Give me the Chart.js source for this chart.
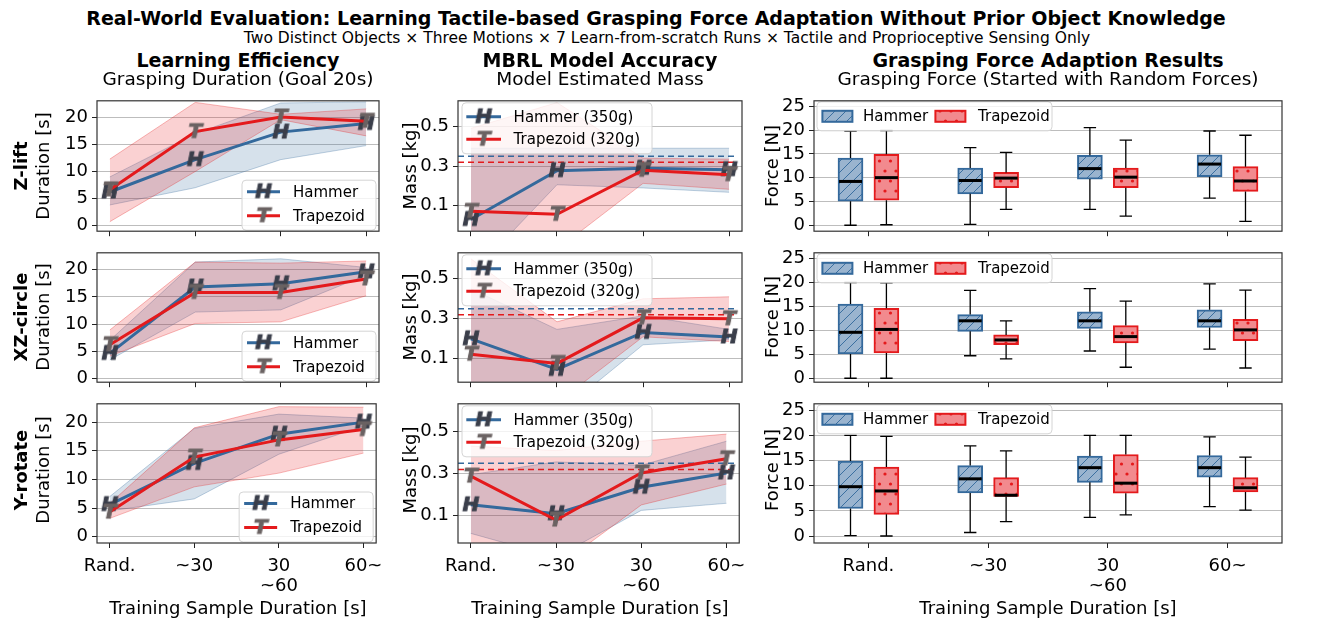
<!DOCTYPE html>
<html>
<head>
<meta charset="utf-8">
<script src="https://cdn.jsdelivr.net/npm/chart.js@4.4.0/dist/chart.umd.min.js"></script>
<style>
  body { margin: 0; background: #fff; }
  #wrap { position: relative; width: 1330px; height: 620px; font-family: "DejaVu Sans", sans-serif; color: #000; overflow: hidden; }
  .t { position: absolute; white-space: nowrap; transform: translate(-50%, -50%); }
  .v { position: absolute; white-space: nowrap; transform: translate(-50%, -50%) rotate(-90deg); }
  canvas { position: absolute; }
</style>
</head>
<body>
<div id="wrap"></div>
<script>
const X_LABELS = ["Rand.", "~30", ["30", "~60"], "60~"];
const MOTIONS = ["Z-lift", "XZ-circle", "Y-rotate"];
const OBJECTS = ["Hammer", "Trapezoid"];
const MASS_LABELS = ["Hammer (350g)", "Trapezoid (320g)"];
const MASS_TRUE = [0.35, 0.32];

// grasping duration [s] per motion: mean and band
const durHammerMean = [[6.2, 12.2, 17.3, 18.9], [4.6, 16.8, 17.4, 19.6], [5.6, 12.8, 17.9, 20.0]];
const durHammerHigh = [[9.0, 17.0, 22.7, 22.9], [7.0, 21.4, 22.0, 20.4], [7.0, 18.9, 21.4, 20.7]];
const durHammerLow = [[3.8, 7.0, 12.2, 14.8], [3.4, 12.2, 12.6, 19.0], [4.5, 6.6, 14.4, 19.3]];
const durTrapMean = [[6.6, 17.4, 20.1, 19.3], [6.2, 15.8, 15.8, 18.3], [4.3, 13.9, 16.9, 18.7]];
const durTrapHigh = [[12.3, 22.8, 20.6, 21.6], [8.9, 21.4, 21.2, 21.6], [5.8, 19.0, 22.7, 22.6]];
const durTrapLow = [[0.7, 10.0, 19.6, 16.6], [4.1, 10.1, 10.4, 15.2], [3.2, 8.7, 11.1, 14.6]];

// model estimated mass [kg]
const massHammerMean = [[0.031, 0.277, 0.289, 0.282], [0.200, 0.047, 0.232, 0.209], [0.151, 0.108, 0.235, 0.303]];
const massHammerHigh = [[0.39, 0.39, 0.39, 0.39], [0.45, 0.247, 0.315, 0.247], [0.295, 0.356, 0.34, 0.455]];
const massHammerLow = [[-0.25, 0.206, 0.19, 0.168], [-0.10, -0.18, 0.17, 0.195], [0.014, -0.10, 0.124, 0.158]];
const massTrapMean = [[0.072, 0.057, 0.279, 0.257], [0.123, 0.077, 0.305, 0.300], [0.288, 0.078, 0.303, 0.371]];
const massTrapHigh = [[0.49, 0.62, 0.34, 0.335], [0.60, 0.285, 0.40, 0.41], [0.432, 0.41, 0.455, 0.489]];
const massTrapLow = [[-0.35, -0.12, 0.213, 0.183], [-0.35, -0.12, 0.21, 0.186], [-0.2, -0.15, 0.15, 0.25]];

// grasping force [N] boxes: [low whisker, q1, median, q3, high whisker]
const forceHammer = [
  [[0.0, 5.06, 9.2, 14.1, 19.8], [0.2, 6.6, 9.4, 12.0, 16.3], [3.35, 9.7, 11.9, 14.7, 20.5], [5.7, 10.2, 12.85, 14.8, 19.8]],
  [[0.0, 5.06, 9.6, 15.5, 20.0], [4.7, 9.8, 12.0, 13.3, 18.35], [5.7, 10.4, 12.0, 13.9, 18.7], [6.1, 10.6, 12.0, 14.3, 19.7]],
  [[0.06, 5.46, 9.8, 14.9, 20.0], [0.7, 8.57, 11.36, 14.0, 17.9], [3.7, 10.66, 13.58, 15.9, 20.0], [5.84, 11.7, 13.58, 16.0, 19.7]]
];
const forceTrap = [
  [[0.1, 5.25, 10.0, 14.9, 19.9], [3.35, 7.9, 9.9, 11.1, 15.3], [1.9, 7.9, 10.1, 12.0, 17.9], [0.82, 7.1, 9.3, 12.3, 18.9]],
  [[0.0, 5.3, 10.2, 14.6, 19.9], [4.05, 7.0, 8.0, 9.05, 12.0], [2.3, 7.4, 8.7, 11.0, 16.1], [2.15, 7.85, 10.1, 12.3, 18.4]],
  [[0.0, 4.3, 8.95, 13.7, 19.8], [2.86, 7.87, 8.1, 11.6, 16.9], [4.2, 8.5, 10.5, 16.2, 20.0], [5.14, 8.76, 9.58, 11.6, 15.67]]
];

const durTicks = [0, 5, 10, 15, 20];
const massTicks = [0.1, 0.3, 0.5];
const forceTicks = [0, 5, 10, 15, 20, 25];
const durRange = [[-1.06, 23.1], [-0.7, 23.1], [-1.1, 23.2]];
const massRange = [[-0.028, 0.629], [-0.017, 0.63], [-0.032, 0.634]];
const forceRange = [[-1.25, 26.14], [-0.82, 26.2], [-1.39, 26.27]];

// layout
const COL_X = [[97, 379], [458, 742], [814, 1282]];
const ROW_Y = [[94, 238.3], [245.6, 388.3], [397.3, 543.3]];
const BLUE = "#34699c";
const RED = "#e41a1c";
const FONT = "DejaVu Sans";

const wrap = document.getElementById("wrap");

function addText(cls, x, y, txt, size, bold) {
  const d = document.createElement("div");
  d.className = cls;
  d.style.left = x + "px";
  d.style.top = y + "px";
  d.style.fontSize = size + "px";
  if (bold) d.style.fontWeight = "bold";
  d.textContent = txt;
  wrap.appendChild(d);
}

function markerImg(letter, color) {
  const c = document.createElement("canvas");
  c.width = 26; c.height = 26;
  const g = c.getContext("2d");
  g.font = "italic bold 20px " + FONT;
  g.textAlign = "center";
  g.textBaseline = "middle";
  g.fillStyle = color;
  g.strokeStyle = color;
  g.lineWidth = 1;
  g.strokeText(letter, 13, 14);
  g.fillText(letter, 13, 14);
  return c;
}
const H_MARK = markerImg("H", "#3a3e4a");
const T_MARK = markerImg("T", "#6a6262");

function hatchPattern(ctx) {
  const c = document.createElement("canvas");
  c.width = 11; c.height = 11;
  const g = c.getContext("2d");
  g.fillStyle = "#9ab4cf";
  g.fillRect(0, 0, 11, 11);
  g.strokeStyle = "#3b6fa0";
  g.lineWidth = 1;
  g.beginPath();
  g.moveTo(0, 11); g.lineTo(11, 0);
  g.moveTo(-6, 6); g.lineTo(6, -6);
  g.moveTo(6, 17); g.lineTo(17, 6);
  g.stroke();
  return ctx.createPattern(c, "repeat");
}

function dotPattern(ctx) {
  const c = document.createElement("canvas");
  c.width = 11; c.height = 20;
  const g = c.getContext("2d");
  g.fillStyle = "#f28a8e";
  g.fillRect(0, 0, 11, 20);
  g.fillStyle = RED;
  [[3, 5], [8.5, 15]].forEach(([x, y]) => {
    g.beginPath();
    g.arc(x, y, 1.6, 0, Math.PI * 2);
    g.fill();
  });
  return ctx.createPattern(c, "repeat");
}

const framePlugin = {
  id: "frame",
  afterDraw(chart) {
    const a = chart.chartArea, c = chart.ctx;
    c.save();
    c.strokeStyle = "#333";
    c.lineWidth = 1.2;
    c.strokeRect(a.left, a.top, a.right - a.left, a.bottom - a.top);
    c.restore();
  }
};

function legendFrame(c, x, y, w, h) {
  c.save();
  c.beginPath();
  c.roundRect(x, y, w, h, 4);
  c.fillStyle = "rgba(255,255,255,0.8)";
  c.fill();
  c.strokeStyle = "#d4d4d4";
  c.lineWidth = 1;
  c.stroke();
  c.restore();
}

function lineLegend(corner, w, h, lineX0, lineX1, textX, rowYs, labels) {
  return {
    id: "lineLegend",
    afterDatasetsDraw(chart) {
      const a = chart.chartArea, c = chart.ctx;
      const x = corner === "lr" ? a.right - 3 - w : a.left + 4;
      const y = corner === "lr" ? a.bottom - 1 - h : a.top + 2;
      legendFrame(c, x, y, w, h);
      const cols = [BLUE, RED], marks = [H_MARK, T_MARK];
      c.save();
      for (let i = 0; i < 2; i++) {
        const yy = y + rowYs[i];
        c.strokeStyle = cols[i];
        c.lineWidth = 3;
        c.beginPath();
        c.moveTo(x + lineX0, yy);
        c.lineTo(x + lineX1, yy);
        c.stroke();
        const m = marks[i];
        c.drawImage(m, x + (lineX0 + lineX1) / 2 - m.width / 2, yy - m.height / 2);
        c.fillStyle = "#000";
        c.font = "15px " + FONT;
        c.textBaseline = "middle";
        c.fillText(labels[i], x + textX, yy + 1);
      }
      c.restore();
    }
  };
}

function boxLegend() {
  return {
    id: "boxLegend",
    afterDatasetsDraw(chart) {
      const a = chart.chartArea, c = chart.ctx;
      const x = a.left + 3, y = a.top + 1;
      legendFrame(c, x, y, 235, 29);
      const fills = [hatchPattern(c), dotPattern(c)], edges = [BLUE, RED];
      const px = [5.4, 118.4], tx = [46, 161];
      c.save();
      for (let i = 0; i < 2; i++) {
        c.fillStyle = fills[i];
        c.fillRect(x + px[i], y + 9, 30, 11);
        c.strokeStyle = edges[i];
        c.lineWidth = 2;
        c.strokeRect(x + px[i], y + 9, 30, 11);
        c.fillStyle = "#000";
        c.font = "15px " + FONT;
        c.textBaseline = "middle";
        c.fillText(OBJECTS[i], x + tx[i], y + 15);
      }
      c.restore();
    }
  };
}

function whiskerPlugin(sets) {
  return {
    id: "whiskers",
    afterDatasetsDraw(chart) {
      const xs = chart.scales.x, ys = chart.scales.y, c = chart.ctx;
      c.save();
      sets.forEach(({ off, stats }) => {
        stats.forEach((s, i) => {
          const cx = xs.getPixelForValue(i + off);
          const [lo, q1, med, q3, hi] = s.map(v => ys.getPixelForValue(v));
          c.strokeStyle = "#000";
          c.lineWidth = 1.3;
          c.beginPath();
          c.moveTo(cx, q1); c.lineTo(cx, lo);
          c.moveTo(cx - 6.2, lo); c.lineTo(cx + 6.2, lo);
          c.moveTo(cx, q3); c.lineTo(cx, hi);
          c.moveTo(cx - 6.2, hi); c.lineTo(cx + 6.2, hi);
          c.stroke();
          c.lineWidth = 3;
          c.beginPath();
          c.moveTo(cx - 11.5, med); c.lineTo(cx + 11.5, med);
          c.stroke();
        });
      });
      c.restore();
    }
  };
}

function pts(arr) {
  return arr.map((v, i) => ({ x: i, y: v }));
}

function makeChart(col, row, type, datasets, yTicks, yRange, xMin, xMax, plugins, yFmt) {
  const [x0, x1] = COL_X[col];
  const [y0, y1] = ROW_Y[row];
  const yW = 75, padT = 8, padR = 12;
  const xH = row === 2 ? 70 : 8;
  const cv = document.createElement("canvas");
  const w = Math.round(x1 - x0 + yW + padR);
  const h = Math.round(y1 - y0 + padT + xH);
  cv.width = w; cv.height = h;
  cv.style.left = (x0 - yW) + "px";
  cv.style.top = (y0 - padT) + "px";
  cv.style.width = w + "px";
  cv.style.height = h + "px";
  wrap.appendChild(cv);

  new Chart(cv.getContext("2d"), {
    type,
    data: { datasets },
    options: {
      responsive: false,
      animation: false,
      events: [],
      layout: { autoPadding: false, padding: { left: 0, top: padT, right: padR, bottom: 0 } },
      plugins: { legend: { display: false }, tooltip: { enabled: false } },
      scales: {
        x: {
          type: "linear",
          min: xMin,
          max: xMax,
          offset: false,
          afterBuildTicks: (s) => { s.ticks = [0, 1, 2, 3].map(v => ({ value: v })); },
          afterFit: (s) => { s.height = xH; },
          grid: { offset: false, drawOnChartArea: false, drawTicks: true, tickLength: 5, tickColor: "#222" },
          border: { display: false },
          ticks: {
            display: row === 2,
            maxRotation: 0,
            autoSkip: false,
            padding: 8,
            color: "#000",
            font: { family: FONT, size: 18, lineHeight: 1.12 },
            callback: (v) => X_LABELS[v]
          }
        },
        y: {
          min: yRange[0],
          max: yRange[1],
          afterBuildTicks: (s) => { s.ticks = yTicks.map(v => ({ value: v })); },
          afterFit: (s) => { s.width = yW; },
          grid: { color: "#bdbdbd", lineWidth: 1, drawTicks: true, tickLength: 5, tickColor: "#222" },
          border: { display: false },
          ticks: {
            padding: 4,
            color: "#000",
            font: { family: FONT, size: 18 },
            callback: yFmt
          }
        }
      }
    },
    plugins: [framePlugin].concat(plugins)
  });
}

function bandSets(hi, lo, rgb, order) {
  return [
    { type: "line", data: pts(hi), borderColor: `rgba(${rgb},0.3)`, borderWidth: 1, pointRadius: 0, fill: false, order },
    { type: "line", data: pts(lo), borderColor: `rgba(${rgb},0.3)`, borderWidth: 1, pointRadius: 0,
      fill: "-1", backgroundColor: `rgba(${rgb},0.2)`, order }
  ];
}

function meanSet(mean, color, mark, order) {
  return { type: "line", data: pts(mean), borderColor: color, borderWidth: 3, fill: false,
    pointStyle: mark, pointRadius: 10, order };
}

for (let r = 0; r < 3; r++) {
  // learning efficiency
  makeChart(0, r, "line", [
    ...bandSets(durHammerHigh[r], durHammerLow[r], "52,105,156", 4),
    ...bandSets(durTrapHigh[r], durTrapLow[r], "228,26,28", 3),
    meanSet(durHammerMean[r], BLUE, H_MARK, 1),
    meanSet(durTrapMean[r], RED, T_MARK, 0)
  ], durTicks, durRange[r], -0.15, 3.15,
  [lineLegend("lr", 134, 50, 5, 38, 51, [11.5, 35.5], OBJECTS)], (v) => v);

  // model accuracy
  makeChart(1, r, "line", [
    ...bandSets(massHammerHigh[r], massHammerLow[r], "52,105,156", 4),
    ...bandSets(massTrapHigh[r], massTrapLow[r], "228,26,28", 3),
    { type: "line", data: [{ x: -0.15, y: MASS_TRUE[0] }, { x: 3.1, y: MASS_TRUE[0] }], borderColor: BLUE,
      borderWidth: 1.5, borderDash: [6, 4], pointRadius: 0, fill: false, order: 2 },
    { type: "line", data: [{ x: -0.15, y: MASS_TRUE[1] }, { x: 3.1, y: MASS_TRUE[1] }], borderColor: RED,
      borderWidth: 1.5, borderDash: [6, 4], pointRadius: 0, fill: false, order: 2 },
    meanSet(massHammerMean[r], BLUE, H_MARK, 1),
    meanSet(massTrapMean[r], RED, T_MARK, 0)
  ], massTicks, massRange[r], -0.15, 3.15,
  [lineLegend("ul", 190, 51, 4.3, 39, 51.6, [14, 36.5], MASS_LABELS)], (v) => v.toFixed(1));

  // grasping force boxes
  const probe = document.createElement("canvas").getContext("2d");
  makeChart(2, r, "bar", [
    { data: forceHammer[r].map((s, i) => ({ x: i - 0.15, y: [s[1], s[3]] })), backgroundColor: hatchPattern(probe),
      borderColor: BLUE, borderWidth: 2, borderSkipped: false, barThickness: 25, grouped: false },
    { data: forceTrap[r].map((s, i) => ({ x: i + 0.15, y: [s[1], s[3]] })), backgroundColor: dotPattern(probe),
      borderColor: RED, borderWidth: 2, borderSkipped: false, barThickness: 25, grouped: false }
  ], forceTicks, forceRange[r], -0.455, 3.455,
  [whiskerPlugin([{ off: -0.15, stats: forceHammer[r] }, { off: 0.15, stats: forceTrap[r] }]), boxLegend()], (v) => v);
}

// texts
addText("t", 656, 18, "Real-World Evaluation: Learning Tactile-based Grasping Force Adaptation Without Prior Object Knowledge", 19, true);
addText("t", 667, 38, "Two Distinct Objects \u00d7 Three Motions \u00d7 7 Learn-from-scratch Runs \u00d7 Tactile and Proprioceptive Sensing Only", 15.5, false);
const colTitles = [["Learning Efficiency", "Grasping Duration (Goal 20s)"], ["MBRL Model Accuracy", "Model Estimated Mass"],
  ["Grasping Force Adaption Results", "Grasping Force (Started with Random Forces)"]];
const yTitles = ["Duration [s]", "Mass [kg]", "Force [N]"];
const yTitleX = [42, 409, 771];
for (let c = 0; c < 3; c++) {
  const cx = (COL_X[c][0] + COL_X[c][1]) / 2;
  addText("t", cx, 60, colTitles[c][0], 19, true);
  addText("t", cx, 78, colTitles[c][1], 18.5, false);
  addText("t", cx, 607, "Training Sample Duration [s]", 18, false);
  for (let r = 0; r < 3; r++) {
    const cy = (ROW_Y[r][0] + ROW_Y[r][1]) / 2;
    addText("v", yTitleX[c], cy, yTitles[c], 18, false);
  }
}
for (let r = 0; r < 3; r++) {
  addText("v", 20, (ROW_Y[r][0] + ROW_Y[r][1]) / 2, MOTIONS[r], 18, true);
}
</script>
</body>
</html>
